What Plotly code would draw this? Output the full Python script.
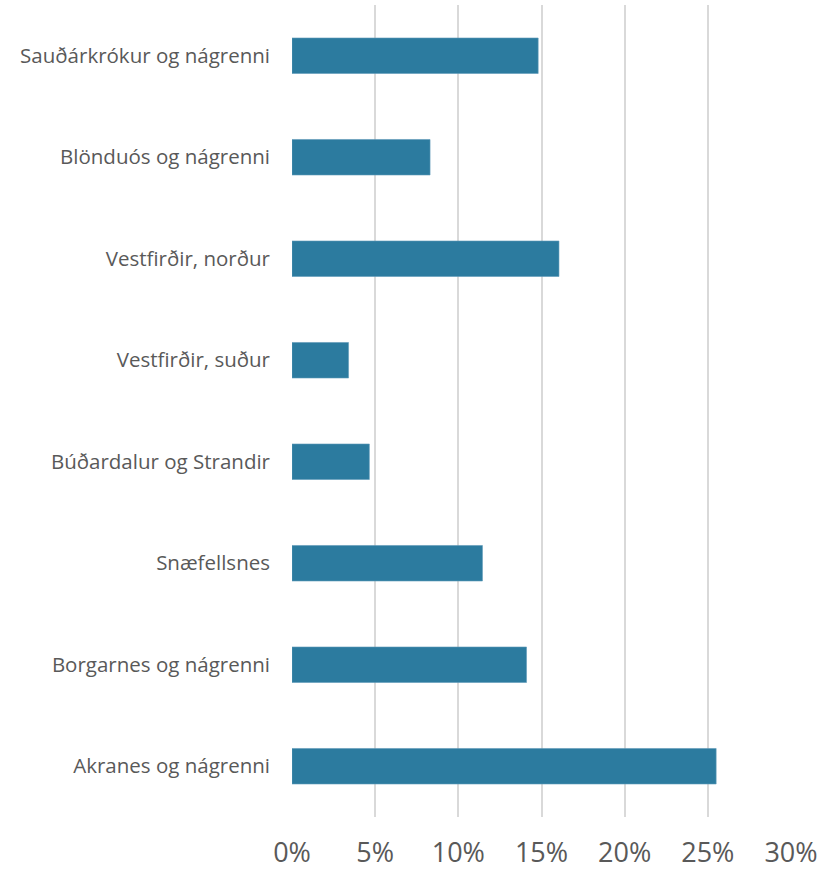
import plotly.graph_objects as go

# Regions, listed top to bottom as shown
regions = [
    "Sauðárkrókur og nágrenni",
    "Blönduós og nágrenni",
    "Vestfirðir, norður",
    "Vestfirðir, suður",
    "Búðardalur og Strandir",
    "Snæfellsnes",
    "Borgarnes og nágrenni",
    "Akranes og nágrenni",
]
# Share of total (%)
shares = [14.8, 8.3, 16.05, 3.4, 4.65, 11.45, 14.1, 25.5]

x_ticks = [0, 5, 10, 15, 20, 25, 30]
x_tick_labels = [f"{t}%" for t in x_ticks]

fig = go.Figure(
    go.Bar(
        x=shares,
        y=regions,
        orientation="h",
        marker=dict(color="#2c7b9f", line=dict(color="#5f9bb8", width=0.6)),
        width=0.35,
    )
)

fig.update_layout(
    width=834,
    height=873,
    margin=dict(l=292, r=43, t=5, b=56),
    paper_bgcolor="white",
    plot_bgcolor="white",
    showlegend=False,
    font=dict(family="Open Sans, sans-serif", color="#595959"),
)

fig.update_xaxes(
    range=[0, 30],
    tickvals=x_ticks,
    ticktext=x_tick_labels,
    showgrid=True,
    gridcolor="#d9d9d9",
    gridwidth=1.5,
    zeroline=False,
    showline=False,
    automargin=False,
    tickfont=dict(size=27, color="#595959"),
    ticklabelstandoff=17,
)

fig.update_yaxes(
    autorange="reversed",
    showgrid=False,
    zeroline=False,
    showline=False,
    automargin=False,
    tickfont=dict(size=20.5, color="#595959"),
    ticklabelstandoff=21,
)

fig.write_html("out.html")
